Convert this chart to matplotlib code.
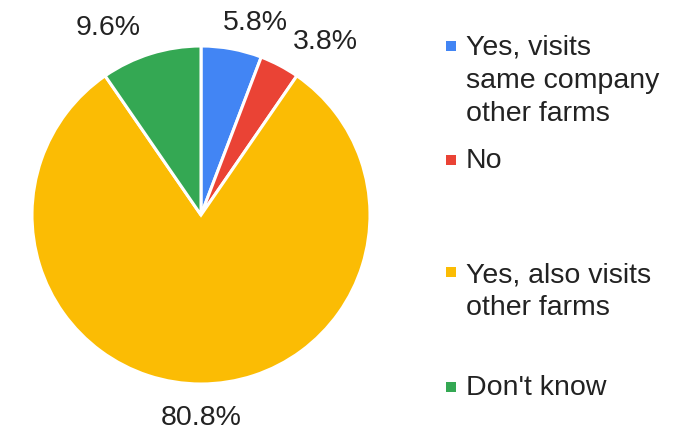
import matplotlib
matplotlib.use("Agg")
import matplotlib.pyplot as plt
from matplotlib.patches import Rectangle
from matplotlib.transforms import offset_copy

# Survey answers, clockwise from 12 o'clock
categories = ["Yes, visits\nsame company\nother farms", "No",
              "Yes, also visits\nother farms", "Don't know"]
shares = [5.8, 3.8, 80.8, 9.6]
colors = ["#4285F4", "#EA4335", "#FBBC04", "#34A853"]
pct_labels = ["5.8%", "3.8%", "80.8%", "9.6%"]

plt.rcParams["font.family"] = ["Liberation Sans", "DejaVu Sans"]
FS = 20.5

W, H = 688, 430
fig = plt.figure(figsize=(W / 100, H / 100), dpi=100)

# Pie axes: centre at (201, 215) px, radius 169 px
cx, cy, R = 201, 215, 169
a = 1.25
side = 2 * a * R
ax = fig.add_axes([(cx - side / 2) / W, ((H - cy) - side / 2) / H, side / W, side / H])
wedges, texts = ax.pie(
    shares, colors=colors, labels=pct_labels, startangle=90, counterclock=False,
    labeldistance=1.08,
    wedgeprops=dict(edgecolor="white", linewidth=2.2),
    textprops=dict(fontsize=FS, color="#222222"),
)
# spread the small-slice labels apart so they do not collide (pixels)
nudge_x = [-11, 7, 0, -6]
nudge_y = [0, -2, -7, 0]
for t, nx, ny in zip(texts, nudge_x, nudge_y):
    x, y = t.get_position()
    t.set_va("bottom" if y > 0 else "top")
    if abs(x) < 0.1:
        t.set_ha("center")
    t.set_transform(offset_copy(ax.transData, fig=fig, x=nx, y=ny, units="dots"))
ax.set_xlim(-a, a)
ax.set_ylim(-a, a)
ax.set_aspect("equal")
ax.axis("off")

# Legend on the right, Google-Sheets style
marker_y = [46, 160, 272, 387]      # marker centres, px from top
first_baseline = [55, 168, 282, 395]
line_step = 33
for lab, col, my, by in zip(categories, colors, marker_y, first_baseline):
    fig.patches.append(Rectangle(((446) / W, (H - my - 5) / H), 10 / W, 10 / H,
                                 transform=fig.transFigure, facecolor=col,
                                 edgecolor="none"))
    for i, line in enumerate(lab.split("\n")):
        fig.text(466 / W, (H - by - i * line_step) / H, line, fontsize=FS,
                 color="#222222", ha="left", va="baseline")

fig.savefig("out.png", dpi=100)
